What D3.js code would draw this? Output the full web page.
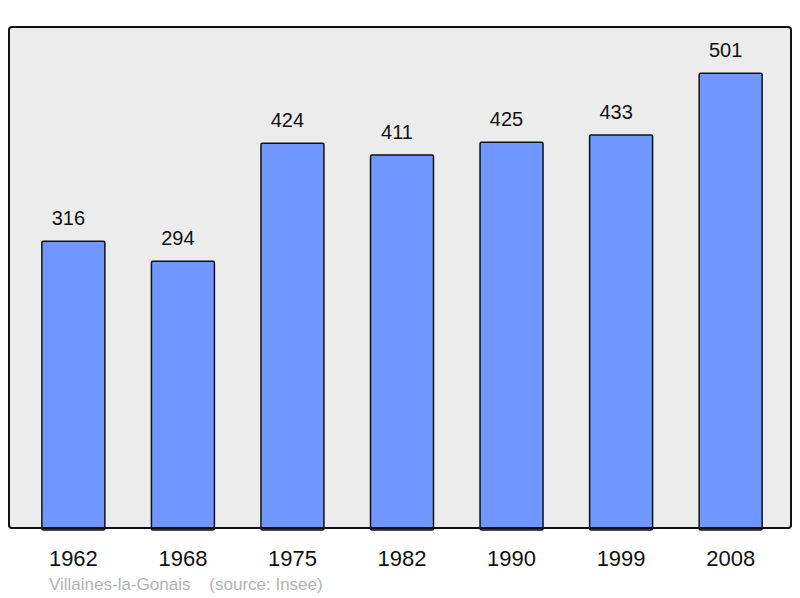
<!DOCTYPE html>
<html><head><meta charset="utf-8">
<script src="https://cdn.jsdelivr.net/npm/d3@7"></script>
<style>html,body{margin:0;padding:0;background:#fff;}svg{display:block;}</style>
</head><body>
<script>
const years = ["1962","1968","1975","1982","1990","1999","2008"];
const population = [316,294,424,411,425,433,501];
const placeName = "Villaines-la-Gonais";
const sourceText = "(source: Insee)";

const W = 800, H = 598;
const svg = d3.select("body").append("svg").attr("width", W).attr("height", H);
svg.append("rect").attr("width", W).attr("height", H).attr("fill", "#fff");

const plot = {x0: 9, x1: 791, y0: 27, y1: 528};
const x = d3.scaleBand().domain(years).range([9, 795]).paddingInner(0.425).paddingOuter(0.3);
const y = d3.scaleLinear().domain([0, 551]).range([plot.y1, plot.y1 - 500]);

svg.append("rect")
  .attr("x", plot.x0).attr("y", plot.y0)
  .attr("width", plot.x1 - plot.x0).attr("height", plot.y1 - plot.y0)
  .attr("rx", 3)
  .attr("fill", "#ececec");

svg.selectAll("rect.bar").data(population).enter().append("rect")
  .attr("class", "bar")
  .attr("x", (d, i) => x(years[i]))
  .attr("y", d => y(d))
  .attr("width", x.bandwidth())
  .attr("height", d => y(0) - y(d) + 2)
  .attr("rx", 1.5)
  .attr("fill", "#7097ff")
  .attr("stroke", "#111")
  .attr("stroke-width", 1.5);

svg.selectAll("text.val").data(population).enter().append("text")
  .attr("class", "val")
  .attr("x", (d, i) => x(years[i]) + x.bandwidth() / 2 - 5)
  .attr("y", d => y(d) - 16.5)
  .attr("text-anchor", "middle")
  .attr("font-family", "Liberation Sans, Arial, sans-serif")
  .attr("font-size", 20)
  .attr("fill", "#111")
  .text(d => d);

// frame on top
svg.append("rect")
  .attr("x", plot.x0).attr("y", plot.y0)
  .attr("width", plot.x1 - plot.x0).attr("height", plot.y1 - plot.y0)
  .attr("rx", 3)
  .attr("fill", "none")
  .attr("stroke", "#111")
  .attr("stroke-width", 2);

const xAxis = d3.axisBottom(x).tickSize(0).tickPadding(0);
const ax = svg.append("g").attr("transform", `translate(0,${plot.y1})`).call(xAxis);
ax.select(".domain").remove();
ax.selectAll("text")
  .attr("y", 38).attr("dy", 0)
  .attr("font-family", "Liberation Sans, Arial, sans-serif")
  .attr("font-size", 22)
  .attr("fill", "#111");

svg.append("text")
  .attr("x", 49).attr("y", 590)
  .attr("font-family", "Liberation Sans, Arial, sans-serif")
  .attr("font-size", 17)
  .attr("fill", "#b3b3b3")
  .attr("xml:space", "preserve")
  .text(placeName + "    " + sourceText);
</script>
</body></html>
